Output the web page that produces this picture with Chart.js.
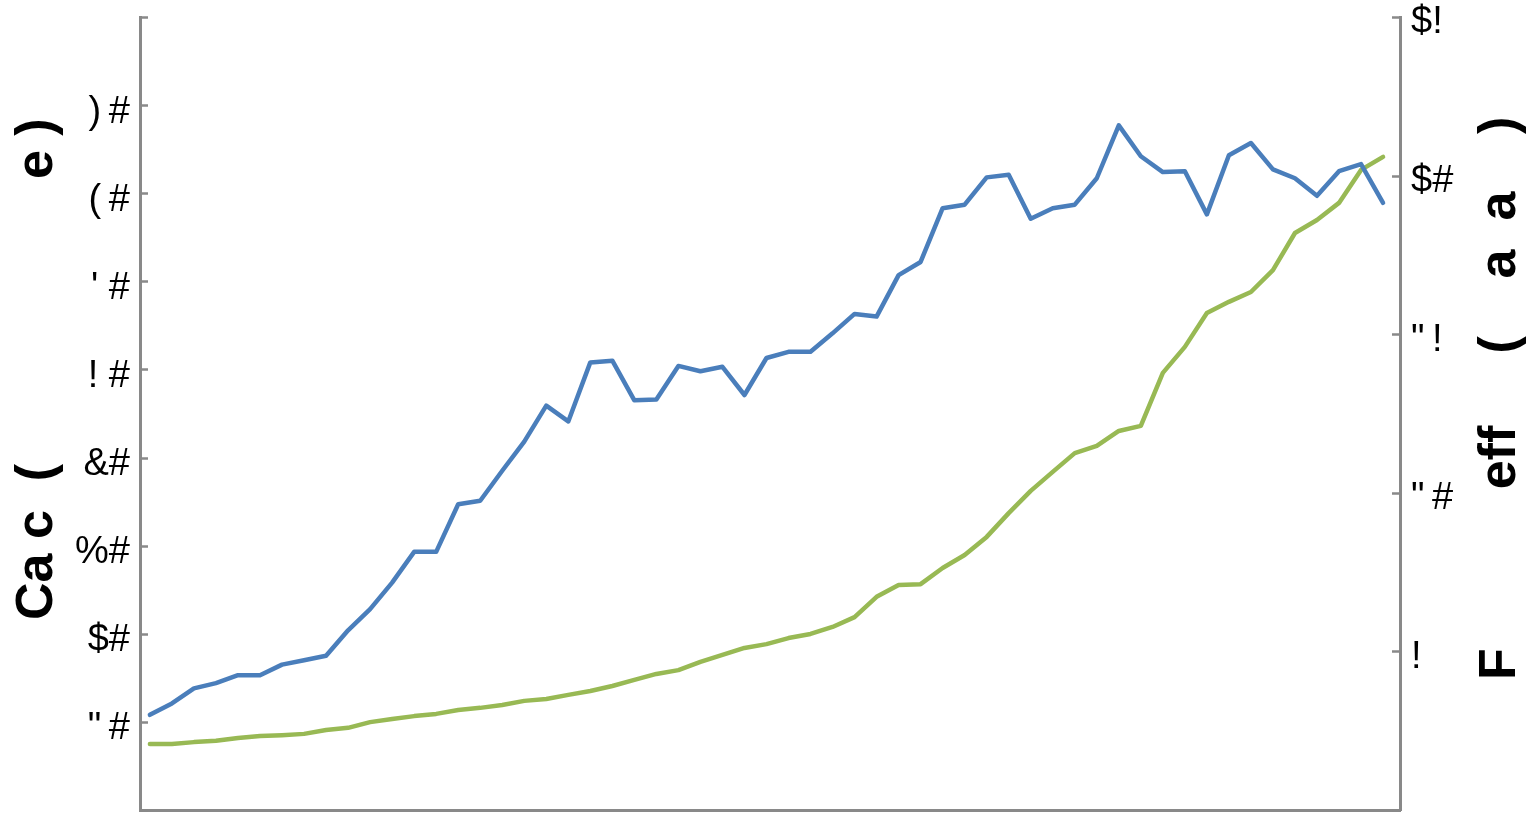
<!DOCTYPE html>
<html>
<head>
<meta charset="utf-8">
<script src="https://cdn.jsdelivr.net/npm/chart.js@4"></script>
<style>
  html, body { margin: 0; padding: 0; background: #fff; }
  #wrap { width: 1532px; height: 821px; }
</style>
</head>
<body>
<div id="wrap"><canvas id="chart"></canvas></div>
<script>
// Data
const periods = [
  0, 1, 2, 3, 4, 5, 6, 7, 8, 9, 10, 11, 12, 13, 14, 15, 16, 17, 18, 19,
  20, 21, 22, 23, 24, 25, 26, 27, 28, 29, 30, 31, 32, 33, 34, 35, 36, 37, 38, 39,
  40, 41, 42, 43, 44, 45, 46, 47, 48, 49, 50, 51, 52, 53, 54, 55, 56
];
// blue series, left axis
const leftSeries = [
  10.8, 12.1, 13.8, 14.4, 15.3, 15.3, 16.5, 17.0, 17.5, 20.4,
  22.8, 25.8, 29.3, 29.3, 34.7, 35.1, 38.5, 41.8, 45.9, 44.1,
  50.8, 51.0, 46.5, 46.6, 50.4, 49.8, 50.3, 47.1, 51.3, 52.0,
  52.0, 54.1, 56.3, 56.0, 60.7, 62.2, 68.3, 68.7, 71.8, 72.1,
  67.1, 68.3, 68.7, 71.7, 77.7, 74.2, 72.4, 72.5, 67.6, 74.3,
  75.7, 72.7, 71.7, 69.7, 72.5, 73.3, 68.9
];
// green series, right axis
const rightSeries = [
  2.08, 2.08, 2.14, 2.18, 2.27, 2.33, 2.36, 2.40, 2.52, 2.59,
  2.77, 2.87, 2.96, 3.03, 3.15, 3.22, 3.31, 3.44, 3.50, 3.63,
  3.75, 3.91, 4.10, 4.29, 4.41, 4.67, 4.89, 5.11, 5.23, 5.42,
  5.55, 5.77, 6.08, 6.72, 7.09, 7.12, 7.63, 8.04, 8.61, 9.36,
  10.06, 10.66, 11.25, 11.48, 11.95, 12.11, 13.78, 14.60, 15.67, 16.02,
  16.33, 17.02, 18.19, 18.60, 19.14, 20.18, 20.59
];

// tick labels as they appear in the picture
const leftTickValues = [10, 20, 30, 40, 50, 60, 70, 80];
const leftTickLabels = ['"\u2009#', '$#', '%#', '&#', '! #', "' #", '(\u2009#', ')\u2009#'];
const rightTickValues = [5, 10, 15, 20, 25];
const rightTickLabels = ['!', '"\u2009#', '"\u2009!', '$#', '$!'];

const leftTitle = 'Ca c  (' + ' '.repeat(19) + '\u2009e )';
const rightTitle = 'F' + ' '.repeat(11) + 'eff' + ' '.repeat(5) + '(' + ' '.repeat(4) + 'a  a' + ' '.repeat(4) + ')';

const axisColor = '#898989';
const tickFont = { family: '"Liberation Sans", Arial, sans-serif', size: 38 };

function labelFor(values, labels, v) {
  const i = values.indexOf(v);
  return i >= 0 ? labels[i] : '';
}

// small tick marks drawn on the inside of both value axes
const innerTicks = {
  id: 'innerTicks',
  beforeDatasetsDraw(chart) {
    const { ctx, chartArea, scales } = chart;
    ctx.save();
    ctx.strokeStyle = axisColor;
    ctx.lineWidth = 2.5;
    scales.y.ticks.forEach((t, i) => {
      const y = Math.round(scales.y.getPixelForTick(i)) + 0.5;
      ctx.beginPath();
      ctx.moveTo(chartArea.left, y);
      ctx.lineTo(chartArea.left + 8, y);
      ctx.stroke();
    });
    scales.y1.ticks.forEach((t, i) => {
      const y = Math.round(scales.y1.getPixelForTick(i)) + 0.5;
      ctx.beginPath();
      ctx.moveTo(chartArea.right, y);
      ctx.lineTo(chartArea.right - 8, y);
      ctx.stroke();
    });
    ctx.restore();
  }
};

// axis titles read bottom to top on both sides
const axisTitles = {
  id: 'axisTitles',
  afterDraw(chart) {
    const { ctx, chartArea } = chart;
    ctx.save();
    ctx.font = 'bold 52px "Liberation Sans", Arial, sans-serif';
    ctx.fillStyle = '#000';
    ctx.textAlign = 'left';
    ctx.textBaseline = 'alphabetic';

    ctx.save();
    ctx.translate(52, chartArea.bottom - 190);
    ctx.rotate(-Math.PI / 2);
    ctx.fillText(leftTitle, 0, 0);
    ctx.restore();

    ctx.save();
    ctx.translate(1515, chartArea.bottom - 130);
    ctx.rotate(-Math.PI / 2);
    ctx.fillText(rightTitle, 0, 0);
    ctx.restore();

    ctx.restore();
  }
};

function fixWidth(w) {
  return s => {
    s.width = w;
    s.paddingTop = 0;
    s.paddingBottom = 0;
  };
}

new Chart(document.getElementById('chart'), {
  type: 'line',
  data: {
    datasets: [
      {
        data: periods.map((p, i) => ({ x: p, y: leftSeries[i] })),
        borderColor: '#4A7EBB',
        borderWidth: 4.5,
        pointRadius: 0,
        borderJoinStyle: 'round',
        borderCapStyle: 'round',
        yAxisID: 'y'
      },
      {
        data: periods.map((p, i) => ({ x: p, y: rightSeries[i] })),
        borderColor: '#98B954',
        borderWidth: 4.5,
        pointRadius: 0,
        borderJoinStyle: 'round',
        borderCapStyle: 'round',
        yAxisID: 'y1'
      }
    ]
  },
  options: {
    responsive: true,
    maintainAspectRatio: false,
    animation: false,
    layout: { padding: { top: 17, left: 0, right: 0, bottom: 0 } },
    plugins: { legend: { display: false }, tooltip: { enabled: false } },
    scales: {
      x: {
        type: 'linear',
        min: -0.45,
        max: 56.77,
        ticks: { display: false },
        grid: { display: false, drawTicks: false },
        border: { color: axisColor, width: 3 },
        afterFit(s) {
          s.height = 11;
          s.paddingLeft = 0;
          s.paddingRight = 0;
        }
      },
      y: {
        type: 'linear',
        position: 'left',
        min: 0,
        max: 90,
        ticks: {
          stepSize: 10,
          autoSkip: false,
          padding: 10,
          labelOffset: 7,
          color: '#000',
          font: tickFont,
          callback: v => labelFor(leftTickValues, leftTickLabels, v)
        },
        grid: { display: false, drawTicks: false },
        border: { color: axisColor, width: 3 },
        afterFit: fixWidth(140)
      },
      y1: {
        type: 'linear',
        position: 'right',
        min: 0,
        max: 25,
        ticks: {
          stepSize: 5,
          autoSkip: false,
          padding: 11,
          labelOffset: 6,
          color: '#000',
          font: tickFont,
          callback: v => labelFor(rightTickValues, rightTickLabels, v)
        },
        grid: { display: false, drawTicks: false },
        border: { color: axisColor, width: 3 },
        afterFit: fixWidth(132)
      }
    }
  },
  plugins: [innerTicks, axisTitles]
});
</script>
</body>
</html>
